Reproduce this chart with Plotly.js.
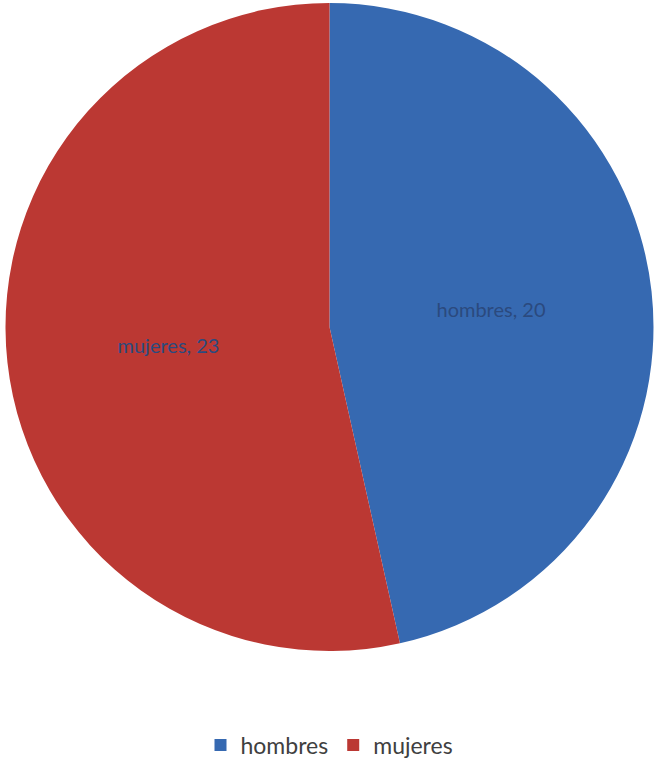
<!DOCTYPE html>
<html>
<head>
<meta charset="utf-8">
<script src="https://cdn.plot.ly/plotly-3.0.1.min.js"></script>
<style>html,body{margin:0;padding:0;background:#fff;}</style>
</head>
<body>
<div id="chart" style="width:657px;height:767px;"></div>
<script>
var categories = ["hombres", "mujeres"];
var values = [20, 23];
var sliceColors = ["#3669B1", "#BB3833"];

var trace = {
  type: "pie",
  labels: categories,
  values: values,
  sort: false,
  direction: "clockwise",
  rotation: 0,
  marker: { colors: sliceColors, line: { color: "#ffffff", width: 0 } },
  texttemplate: "%{label}, %{value}",
  textposition: "inside",
  insidetextorientation: "horizontal",
  textfont: { family: "Lato, 'Open Sans', sans-serif", size: 20, color: "#2B4A7E" },
  hoverinfo: "label+value"
};

var layout = {
  width: 657,
  height: 767,
  margin: { l: 2, r: 0, t: 3, b: 107 },
  paper_bgcolor: "#ffffff",
  showlegend: true,
  legend: {
    orientation: "h",
    x: 0.5, xanchor: "center",
    y: -0.145, yanchor: "middle",
    itemsizing: "constant",
    font: { family: "Lato, 'Open Sans', sans-serif", size: 23, color: "#404040" }
  }
};

Plotly.newPlot("chart", [trace], layout, { displayModeBar: false, staticPlot: true });
</script>
</body>
</html>
